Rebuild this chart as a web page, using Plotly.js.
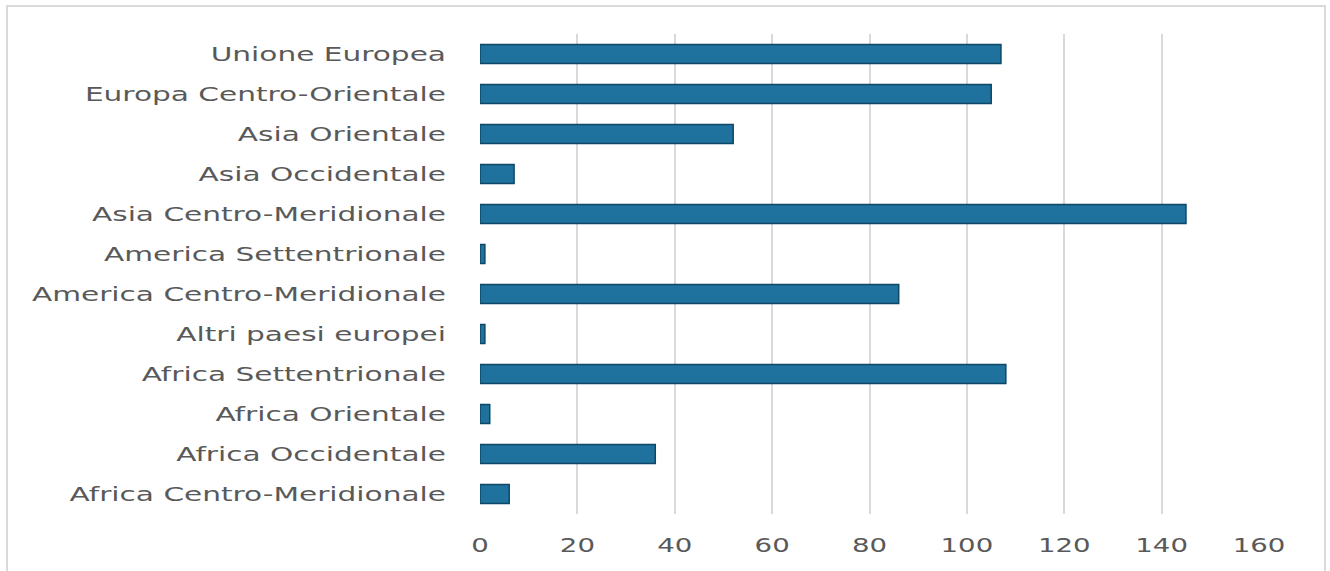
<!DOCTYPE html>
<html>
<head>
<meta charset="utf-8">
<script src="https://cdn.plot.ly/plotly-3.0.1.min.js"></script>
<style>
html,body{margin:0;padding:0;background:#fff;}
#wrap{position:relative;width:1330px;height:571px;}
#chart{position:absolute;left:0;top:0;width:1330px;height:571px;}
#frame{position:absolute;left:6px;top:5px;width:1320px;height:580px;border:2px solid #d9d9d9;box-sizing:border-box;pointer-events:none;}
#chart g.ytick{transform-box:fill-box;transform-origin:100% 50%;transform:scaleX(1.48);}
#chart g.xtick{transform-box:fill-box;transform-origin:50% 50%;transform:scaleX(1.38);}
</style>
</head>
<body>
<div id="wrap"><div id="chart"></div><div id="frame"></div></div>
<script>
const categories = [
  "Africa Centro-Meridionale",
  "Africa Occidentale",
  "Africa Orientale",
  "Africa Settentrionale",
  "Altri paesi europei",
  "America Centro-Meridionale",
  "America Settentrionale",
  "Asia Centro-Meridionale",
  "Asia Occidentale",
  "Asia Orientale",
  "Europa Centro-Orientale",
  "Unione Europea"
];
const values = [6, 36, 2, 108, 1, 86, 1, 145, 7, 52, 105, 107];
const xTicks = [0, 20, 40, 60, 80, 100, 120, 140, 160];

const trace = {
  type: "bar",
  orientation: "h",
  y: categories,
  x: values,
  marker: {color: "#1f719e", line: {color: "#0d4866", width: 1.5}},
  hoverinfo: "x+y"
};

const layout = {
  width: 1330, height: 571,
  margin: {l: 480, r: 71, t: 34, b: 57, pad: 0},
  paper_bgcolor: "rgba(0,0,0,0)",
  plot_bgcolor: "#fff",
  bargap: 0.52,
  showlegend: false,
  font: {family: "DejaVu Sans, sans-serif", size: 20, color: "#595959"},
  xaxis: {
    range: [0, 160],
    tickvals: xTicks,
    ticktext: xTicks.map(String),
    showgrid: true, gridcolor: "#d9d9d9", gridwidth: 2,
    zeroline: false, showline: false,
    ticks: "", ticklabelstandoff: 17,
    tickfont: {size: 20, color: "#595959"},
    fixedrange: true
  },
  yaxis: {
    type: "category",
    categoryorder: "array", categoryarray: categories,
    showgrid: false, zeroline: false, showline: false,
    ticks: "", ticklabelstandoff: 33,
    tickfont: {size: 20, color: "#595959"},
    fixedrange: true
  }
};

Plotly.newPlot("chart", [trace], layout, {displayModeBar: false, staticPlot: true});
</script>
</body>
</html>
